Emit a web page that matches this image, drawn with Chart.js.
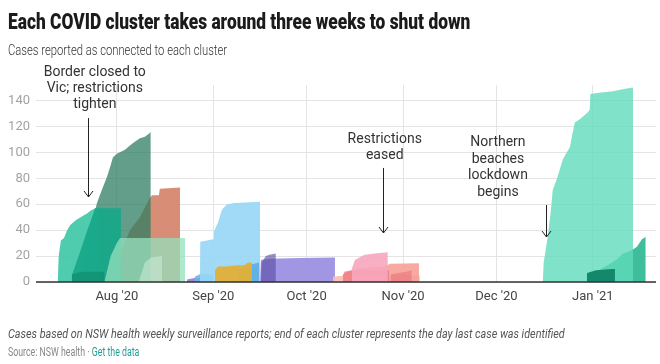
<!DOCTYPE html>
<html>
<head>
<meta charset="utf-8">
<script src="https://cdn.jsdelivr.net/npm/chart.js@4"></script>
<style>
  html, body { margin: 0; padding: 0; background: #fff; }
  body { width: 660px; height: 364px; position: relative; overflow: hidden; font-family: Roboto, sans-serif; }
  #wrap { position: absolute; left: 0; top: 0; width: 660px; height: 364px; }
  .txt { position: absolute; left: 8px; white-space: nowrap; transform-origin: 0 50%; z-index: 2; }
  #title { top: 10px; font-size: 22px; line-height: 24px; font-weight: 900; color: #1b1b1b; }
  #subtitle { top: 42px; font-size: 14px; line-height: 16px; font-weight: 300; color: #333; }
  #note { top: 326px; font-size: 13px; line-height: 16px; font-style: italic; color: #555; }
  #source { top: 345px; font-size: 12px; line-height: 14px; color: #888; }
  #source span { color: #1f9e98; }
</style>
</head>
<body>
<div id="title" class="txt">Each COVID cluster takes around three weeks to shut down</div>
<div id="subtitle" class="txt">Cases reported as connected to each cluster</div>
<div id="note" class="txt">Cases based on NSW health weekly surveillance reports; end of each cluster represents the day last case was identified</div>
<div id="source" class="txt">Source: NSW health · <span>Get the data</span></div>
<div id="wrap"><canvas id="chart" width="660" height="364"></canvas></div>
<script>
// x values are days counted from 1 July 2020, y values are cases
const monthDays = [31, 62, 92, 123, 153, 184];
const monthLabels = ["Aug '20", "Sep '20", "Oct '20", "Nov '20", "Dec '20", "Jan '21"];
const yTicks = [0, 20, 40, 60, 80, 100, 120, 140];

// July / August clusters
const salmonCluster = [[31.3,0],[32.6,25],[35.2,40],[38.4,50],[41.6,65],[42.3,67],[44.5,67],[44.8,72],[51.3,73],[51.3,0]];
const thaiRock = [[18,0],[19,8],[20,15],[21,25],[22,35],[23,45],[24,55],[24.6,61],[26,70],[27.8,81],[29,90],[29.7,96],[31,99],[33.6,102],[35,105],[36.1,107],[38.4,111],[40,112],[41.6,115],[41.9,116],[41.9,0]];
const crossroads = [[12,0],[12.3,20],[13,32],[14,34],[15,40],[16,44],[18,48],[20,51],[21.5,53],[22.5,55],[24,57],[25,57],[25,0]];
const tealCluster = [[16.5,0],[16.5,5],[19,22],[21.5,40],[23,50],[24,57],[32.3,57],[32.3,0]];
const darkBand = [[16.5,0],[16.5,6],[20,8],[27,8],[27,0]];
const mintCluster = [[27,0],[29,20],[31,30],[32,34],[52.9,34],[52.9,0]];
const paleCluster = [[38,0],[40,15],[42,19],[45.5,20],[45.5,0]];

// September / October clusters
const purpleSmall = [[53.5,0],[53.5,2],[56,3],[58,3],[58,0]];
const blueSmall = [[56,0],[56,4],[57.7,6],[62,6],[62,0]];
const lightBlue = [[57.7,0],[57.8,31],[60,32],[61.9,33],[62.2,39],[63.5,46],[64.8,56],[66.4,60],[68.9,61],[77,62],[77,0]];
const blueLate = [[70,0],[70,10],[75,14],[76.7,15],[76.7,0]];
const goldCluster = [[62.5,0],[62.5,9],[63.5,12],[66,12],[70,13],[72,13],[73.1,15],[74.4,15],[74.4,0]];
const purpleLong = [[77,0],[77.3,17],[80,18],[90,18.5],[101.1,19],[101.1,0]];
const purpleDark = [[77.3,0],[77.5,15],[78.9,20],[80,21],[82.1,22],[82.1,0]];

// October / November clusters
const pinkBand = [[100.4,0],[100.4,4],[104,5],[110,5],[128.4,5],[128.4,0]];
const salmonLate = [[104,0],[104,8],[110,11],[117,12],[118.8,14],[128.1,14.5],[128.1,0]];
const coralCluster = [[103.6,0],[103.6,6],[105,8],[107,9],[118.5,9],[118.5,0]];
const pinkCluster = [[106.5,0],[106.5,10],[107.5,17],[109.8,20],[110.7,21],[113.9,22],[118.1,23],[118.1,0]];
const coralSmall = [[119,0],[119,6],[124,8],[125.8,9],[125.8,0]];

// December / January clusters
const croydon = [[182,0],[182,5],[186,9],[189.5,14],[192,18],[193.6,22],[196,24],[198.1,27],[199.8,33],[201,35],[201,0]];
const northernBeaches = [[167.9,0],[168.2,15],[169.5,35],[170.5,55],[171.1,71],[172.5,80],[174.4,95],[176.6,104],[177.5,115],[178.2,123],[180,126],[182.4,131],[183,133],[183.2,145],[186,146],[190,147],[194,149],[196.9,150],[196.9,0]];
const avalonSmall = [[182.1,0],[182.1,7],[185,9],[190,10],[191.1,10],[191.1,0]];

// back to front
const layers = [
  [salmonCluster, 'rgba(214,135,111,0.95)'],
  [thaiRock, 'rgba(46,125,98,0.75)'],
  [crossroads, 'rgba(64,200,166,0.92)'],
  [tealCluster, 'rgba(24,168,137,0.95)'],
  [darkBand, 'rgba(18,148,116,0.9)'],
  [mintCluster, 'rgba(150,224,190,0.75)'],
  [paleCluster, 'rgba(205,236,218,0.55)'],
  [purpleSmall, 'rgba(140,125,214,0.9)'],
  [blueSmall, 'rgba(110,180,235,0.9)'],
  [lightBlue, 'rgba(150,214,246,0.9)'],
  [blueLate, 'rgba(90,170,230,0.85)'],
  [goldCluster, 'rgba(224,176,56,0.95)'],
  [purpleLong, 'rgba(155,144,226,0.95)'],
  [purpleDark, 'rgba(96,78,168,0.65)'],
  [pinkBand, 'rgba(250,190,180,0.9)'],
  [salmonLate, 'rgba(246,160,152,0.9)'],
  [coralCluster, 'rgba(238,128,136,0.85)'],
  [pinkCluster, 'rgba(248,166,188,0.9)'],
  [coralSmall, 'rgba(232,112,122,0.55)'],
  [croydon, 'rgba(52,186,150,0.95)'],
  [northernBeaches, 'rgba(96,220,188,0.8)'],
  [avalonSmall, 'rgba(17,132,103,0.95)']
];

const notes = [
  { lines: ['Border closed to', 'Vic; restrictions', 'tighten'], textX: 23.9, textY: 161.3, lh: 16, arrowX: 21.7, from: 126.5, to: 65.6 },
  { lines: ['Restrictions', 'eased'], textX: 117.1, textY: 110.3, lh: 16, arrowX: 116.5, from: 88, to: 37.8 },
  { lines: ['Northern', 'beaches', 'lockdown', 'begins'], textX: 153.5, textY: 107.3, lh: 16.4, arrowX: 168.9, from: 59.4, to: 34.7 }
];

const datasets = layers.map(function (l, i) {
  return {
    data: l[0].map(function (p) { return { x: p[0], y: p[1] }; }),
    backgroundColor: l[1],
    borderWidth: 0,
    pointRadius: 0,
    fill: 'origin',
    tension: 0,
    order: layers.length - i
  };
});

const notesPlugin = {
  id: 'notes',
  afterDatasetsDraw(chart) {
    const ctx = chart.ctx, xs = chart.scales.x, ys = chart.scales.y;
    ctx.save();
    // baseline
    ctx.strokeStyle = '#333';
    ctx.lineWidth = 1.5;
    ctx.beginPath();
    ctx.moveTo(chart.chartArea.left, ys.getPixelForValue(0));
    ctx.lineTo(chart.chartArea.right, ys.getPixelForValue(0));
    ctx.stroke();

    ctx.font = '14px Roboto';
    ctx.fillStyle = '#333';
    ctx.textAlign = 'center';
    ctx.textBaseline = 'middle';
    ctx.lineWidth = 1;
    notes.forEach(function (n) {
      const tx = xs.getPixelForValue(n.textX);
      const ty = ys.getPixelForValue(n.textY);
      n.lines.forEach(function (s, i) { ctx.fillText(s, tx, ty + i * n.lh); });
      const ax = Math.round(xs.getPixelForValue(n.arrowX)) + 0.5;
      const a1 = ys.getPixelForValue(n.from), a2 = ys.getPixelForValue(n.to);
      ctx.strokeStyle = '#222';
      ctx.beginPath();
      ctx.moveTo(ax, a1);
      ctx.lineTo(ax, a2);
      ctx.moveTo(ax - 4.5, a2 - 6);
      ctx.lineTo(ax, a2);
      ctx.lineTo(ax + 4.5, a2 - 6);
      ctx.stroke();
    });
    ctx.restore();
  }
};

new Chart(document.getElementById('chart'), {
  type: 'line',
  data: { datasets: datasets },
  options: {
    responsive: false,
    animation: false,
    events: [],
    layout: { padding: { left: 0, right: 4, top: 85, bottom: 58 } },
    plugins: { legend: { display: false }, tooltip: { enabled: false } },
    scales: {
      x: {
        type: 'linear',
        min: 5,
        max: 204.3,
        afterBuildTicks: function (s) { s.ticks = monthDays.map(function (v) { return { value: v }; }); },
        afterFit: function (s) { s.height = 24; },
        grid: { color: '#e4e4e4', drawTicks: false },
        border: { display: false },
        ticks: {
          padding: 7,
          maxRotation: 0,
          autoSkip: false,
          color: '#444',
          font: { family: 'Roboto', size: 13 },
          callback: function (v, i) { return monthLabels[i]; }
        }
      },
      y: {
        min: 0,
        max: 152,
        afterBuildTicks: function (s) { s.ticks = yTicks.map(function (v) { return { value: v }; }); },
        afterFit: function (s) { s.width = 36; },
        grid: { color: '#e4e4e4', drawTicks: false },
        border: { display: false },
        ticks: {
          padding: 6,
          color: '#a3a3a3',
          font: { family: 'Roboto', size: 13 }
        }
      }
    }
  },
  plugins: [notesPlugin]
});

function squeeze(id, w) {
  const el = document.getElementById(id);
  el.style.transform = 'scaleX(' + (w / el.offsetWidth) + ')';
}
squeeze('title', 462);
squeeze('subtitle', 219);
squeeze('note', 557);
squeeze('source', 131);
</script>
</body>
</html>
